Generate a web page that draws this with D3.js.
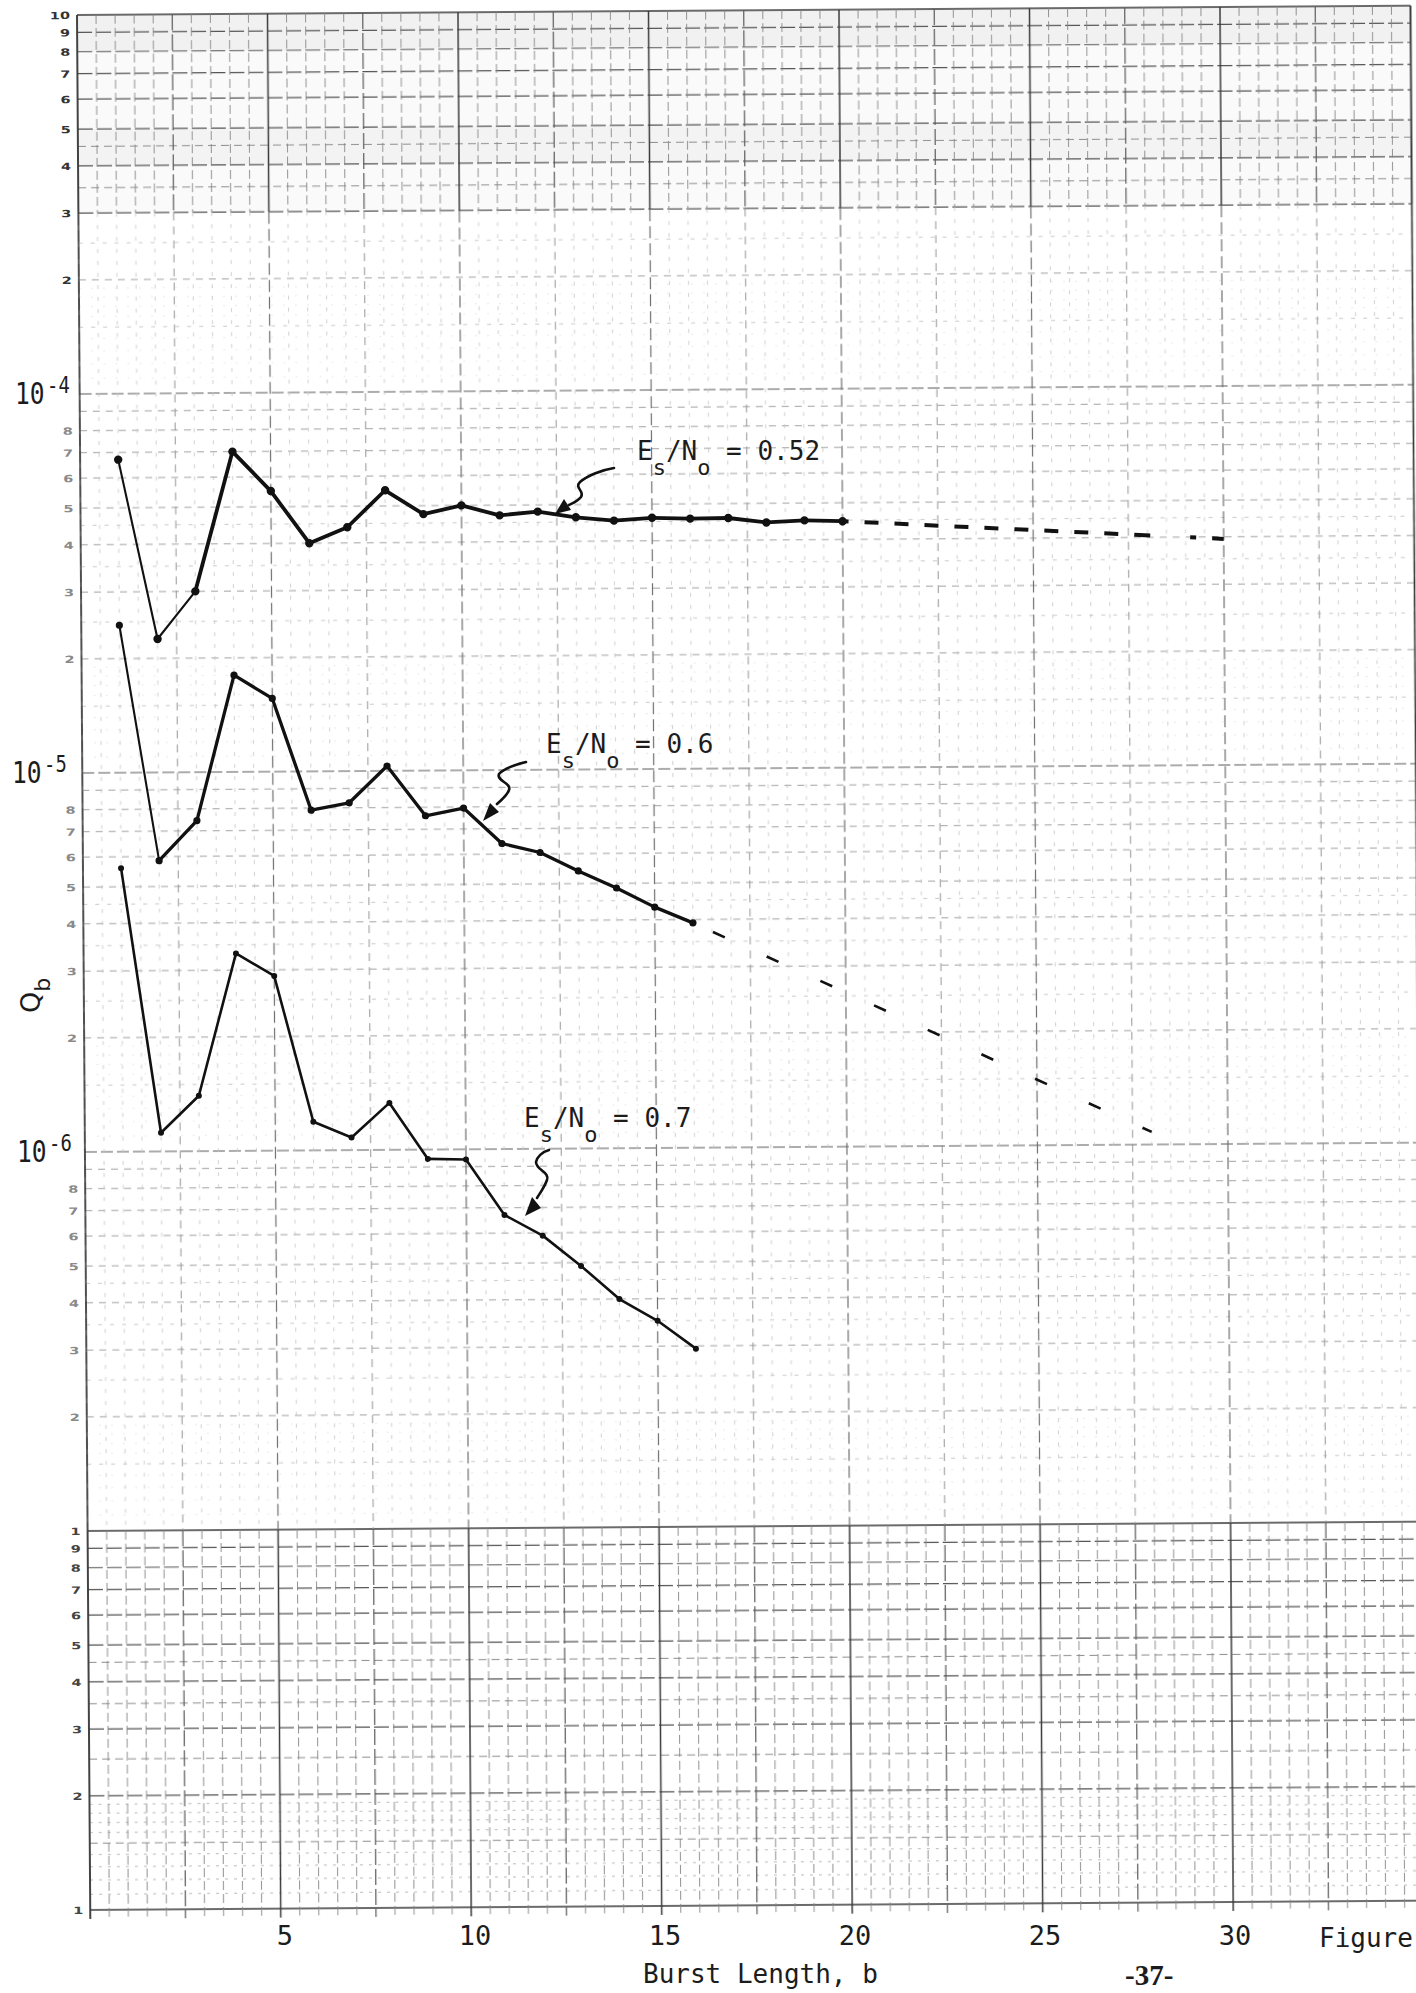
<!DOCTYPE html>
<html>
<head>
<meta charset="utf-8">
<script src="https://cdn.jsdelivr.net/npm/d3@7"></script>
<style>
  html, body { margin: 0; padding: 0; background: #fff; }
  svg { display: block; }
  .typed { font-family: "DejaVu Sans Mono", monospace; fill: #1c1c1c; }
</style>
</head>
<body>
<svg id="chart" width="1416" height="1993"></svg>
<script>
// ---- data: probability Q_b versus burst length b ----
const burst052 = [1, 2, 3, 4, 5, 6, 7, 8, 9, 10, 11, 12, 13, 14, 15, 16, 17, 18, 19, 20];
const q052 = [6.7e-5, 2.25e-5, 3.0e-5, 7.0e-5, 5.5e-5, 4.0e-5, 4.4e-5, 5.5e-5, 4.75e-5, 5.0e-5,
              4.7e-5, 4.8e-5, 4.63e-5, 4.53e-5, 4.6e-5, 4.57e-5, 4.58e-5, 4.45e-5, 4.5e-5, 4.47e-5];

const burst06 = [1, 2, 3, 4, 5, 6, 7, 8, 9, 10, 11, 12, 13, 14, 15, 16];
const q06 = [2.45e-5, 5.85e-6, 7.45e-6, 1.8e-5, 1.56e-5, 7.9e-6, 8.25e-6, 1.03e-5, 7.6e-6, 7.95e-6,
             6.4e-6, 6.05e-6, 5.4e-6, 4.86e-6, 4.32e-6, 3.92e-6];

const burst07 = [1, 2, 3, 4, 5, 6, 7, 8, 9, 10, 11, 12, 13, 14, 15, 16];
const q07 = [5.6e-6, 1.12e-6, 1.4e-6, 3.32e-6, 2.89e-6, 1.19e-6, 1.08e-6, 1.33e-6, 9.45e-7, 9.4e-7,
             6.7e-7, 5.9e-7, 4.9e-7, 4.0e-7, 3.5e-7, 2.95e-7];

// extrapolated trends (dashed)
const trendBurst052 = [20, 30];
const trendQ052 = [4.47e-5, 3.95e-5];
const trendBurst06 = [16, 28];
const trendQ06 = [3.92e-6, 1.08e-6];

// axis labels
const xTickValues = [5, 10, 15, 20, 25, 30];
const yDecadeLabels = [
  { base: "10", exp: "-4", value: 1e-4 },
  { base: "10", exp: "-5", value: 1e-5 },
  { base: "10", exp: "-6", value: 1e-6 }
];
const curveLabels = [
  { ratio: "0.52" },
  { ratio: "0.6" },
  { ratio: "0.7" }
];

// printed cycle numbering of the log paper
const cycleDigitsTop = [10, 9, 8, 7, 6, 5, 4, 3, 2];      // on the 1e-4 cycle
const cycleDigitsMid = [8, 7, 6, 5, 4, 3, 2];             // on the 1e-5, 1e-6, 1e-7 cycles
const cycleDigitsBottom = [10, 9, 8, 7, 6, 5, 4, 3, 2, 1]; // on the 1e-8 cycle

// graph-paper rulings within one cycle
const rulingMain = [1, 2, 3, 4, 5, 6, 7, 8, 9];
const rulingHalf = [1.5, 2.5, 3.5, 4.5];
const rulingTenth = [1.1, 1.2, 1.3, 1.4, 1.6, 1.7, 1.8, 1.9];
const cycleBases = [1e-8, 1e-7, 1e-6, 1e-5, 1e-4];

// ---- drawing ----
const svg = d3.select("#chart");

const defs = svg.append("defs");
defs.append("filter").attr("id", "soft")
  .append("feGaussianBlur").attr("stdDeviation", 0.45);

const x = d3.scaleLinear().domain([0, 35]).range([77, 1410.5]);
const y = d3.scaleLog().domain([1e-8, 1e-3]).range([1910, 15]);

// the ruled sheet sits slightly skewed under the typed lettering
const paper = svg.append("g").attr("transform", "rotate(-0.4 77 15)");
const rulings = paper.append("g").attr("filter", "url(#soft)");

// grey cast of the top cycle
rulings.append("rect")
  .attr("x", x(0)).attr("y", y(1e-3))
  .attr("width", x(35) - x(0)).attr("height", y(3e-4) - y(1e-3))
  .attr("fill", "#000").attr("opacity", 0.02);
rulings.append("rect")
  .attr("x", x(0)).attr("y", y(1e-3))
  .attr("width", x(35) - x(0)).attr("height", y(8e-4) - y(1e-3))
  .attr("fill", "#000").attr("opacity", 0.04);
rulings.append("rect")
  .attr("x", x(0)).attr("y", y(5e-4))
  .attr("width", x(35) - x(0)).attr("height", y(4e-4) - y(5e-4))
  .attr("fill", "#000").attr("opacity", 0.03);

const dense = v => v >= 2.95e-4 || v <= 1.001e-7;

const hStyle = {
  dense: {
    main:  { c: "#555",    w: 1.2, d: "15 4" },
    half:  { c: "#808080", w: 0.9, d: "8 5" },
    tenth: { c: "#a8a8a8", w: 0.8, d: "3 6" },
    cycle: { c: "#3a3a3a", w: 1.4, d: null }
  },
  faint: {
    main:  { c: "#a2a2a2", w: 1.0, d: "7 6" },
    half:  { c: "#bdbdbd", w: 0.8, d: "4 8" },
    tenth: { c: "#e0e0e0", w: 0.7, d: "2 10" },
    cycle: { c: "#5a5a5a", w: 1.2, d: "12 4" }
  }
};

const hLines = [];
cycleBases.forEach(base => {
  rulingMain.forEach(m => hLines.push({ v: base * m, kind: m === 1 ? "cycle" : "main" }));
  rulingHalf.forEach(m => hLines.push({ v: base * m, kind: "half" }));
  rulingTenth.forEach(m => hLines.push({ v: base * m, kind: "tenth" }));
});
hLines.push({ v: 1e-3, kind: "cycle" });

rulings.append("g").selectAll("line").data(hLines).join("line")
  .attr("x1", x(0)).attr("x2", x(35))
  .attr("y1", d => y(d.v)).attr("y2", d => y(d.v))
  .each(function (d) {
    const s = hStyle[dense(d.v) ? "dense" : "faint"][d.kind];
    d3.select(this).attr("stroke", s.c).attr("stroke-width", s.w)
      .attr("stroke-dasharray", s.d);
  });

// vertical rulings every half unit, split into the dark and the faded bands
const vStyle = {
  dense: {
    heavy: { c: "#3a3a3a", w: 1.5, d: null },
    mid:   { c: "#5a5a5a", w: 1.2, d: "16 4" },
    fine:  { c: "#858585", w: 0.9, d: "9 4" }
  },
  faint: {
    heavy: { c: "#707070", w: 1.2, d: "12 5" },
    mid:   { c: "#959595", w: 1.0, d: "8 6" },
    fine:  { c: "#c4c4c4", w: 0.8, d: "4 8" }
  }
};
const vBands = [
  { top: 1e-3, bottom: 3e-4, band: "dense" },
  { top: 3e-4, bottom: 1e-7, band: "faint" },
  { top: 1e-7, bottom: 1e-8, band: "dense", extra: 9 }
];
const vPositions = d3.range(0, 35.01, 0.5);
vBands.forEach(bd => {
  rulings.append("g").selectAll("line").data(vPositions).join("line")
    .attr("x1", d => x(d)).attr("x2", d => x(d))
    .attr("y1", y(bd.top)).attr("y2", y(bd.bottom) + (bd.extra || 0))
    .each(function (d) {
      const kind = d % 5 === 0 ? "heavy" : d % 2.5 === 0 ? "mid" : "fine";
      const s = vStyle[bd.band][kind];
      d3.select(this).attr("stroke", s.c).attr("stroke-width", s.w)
        .attr("stroke-dasharray", s.d);
    });
});
// sheet border
rulings.append("line").attr("x1", x(0)).attr("x2", x(0)).attr("y1", y(1e-3)).attr("y2", y(1e-8) + 9)
  .attr("stroke", "#3a3a3a").attr("stroke-width", 1.6);
rulings.append("line").attr("x1", x(35)).attr("x2", x(35)).attr("y1", y(1e-3)).attr("y2", y(1e-8) + 9)
  .attr("stroke", "#3a3a3a").attr("stroke-width", 1.6);

// printed cycle numbers
function cycleDigits(values, base, color, labelTen) {
  paper.append("g").selectAll("text").data(values).join("text")
    .attr("transform", m => `translate(${x(0) - 7},${y(base * m) + 4}) scale(1.45,1)`)
    .attr("text-anchor", "end")
    .attr("font-family", "DejaVu Sans, sans-serif")
    .attr("font-weight", "bold")
    .attr("font-size", 10)
    .attr("fill", color)
    .text(m => m === 10 ? labelTen : String(m));
}
cycleDigits(cycleDigitsTop, 1e-4, "#333", "10");
cycleDigits(cycleDigitsMid, 1e-5, "#8a8a8a", "1");
cycleDigits(cycleDigitsMid, 1e-6, "#8a8a8a", "1");
cycleDigits(cycleDigitsMid, 1e-7, "#8a8a8a", "1");
cycleDigits(cycleDigitsBottom, 1e-8, "#444", "1");

// ---- plotted curves ----
const series = [
  { b: burst052, q: q052, w: 3.8, thinSegs: 2, r: 4.2 },
  { b: burst06, q: q06, w: 3.3, thinSegs: 1, r: 3.6 },
  { b: burst07, q: q07, w: 2.6, thinSegs: 0, r: 3.0 }
];
series.forEach(s => {
  const pts = s.b.map((b, i) => [b, s.q[i]]);
  const segs = d3.pairs(pts);
  paper.append("g").selectAll("line").data(segs).join("line")
    .attr("x1", d => x(d[0][0])).attr("y1", d => y(d[0][1]))
    .attr("x2", d => x(d[1][0])).attr("y2", d => y(d[1][1]))
    .attr("stroke", "#111")
    .attr("stroke-linecap", "round")
    .attr("stroke-width", (d, i) => i < s.thinSegs ? 2.1 : s.w);
  paper.append("g").selectAll("circle").data(pts).join("circle")
    .attr("cx", d => x(d[0])).attr("cy", d => y(d[1]))
    .attr("r", s.r).attr("fill", "#111");
});

const trendLine = d3.line().x(d => x(d[0])).y(d => y(d[1]));
paper.append("path")
  .attr("d", trendLine(trendBurst052.map((b, i) => [b, trendQ052[i]])))
  .attr("fill", "none").attr("stroke", "#111").attr("stroke-width", 4)
  .attr("stroke-dasharray", "6 16 14 16 14 16 14 16 14 16 14 16 14 16 14 16 14 16 14 16 16 40");
paper.append("path")
  .attr("d", trendLine(trendBurst06.map((b, i) => [b, trendQ06[i]])))
  .attr("fill", "none").attr("stroke", "#111").attr("stroke-width", 2.6)
  .attr("stroke-dasharray", "0 22 13 24");

// ---- hand-drawn pointers ----
const ink = svg.append("g").attr("fill", "none").attr("stroke", "#111")
  .attr("stroke-width", 2.6).attr("stroke-linecap", "round");
const pointers = [
  { d: "M614,468 C601,470 587,476 580,482 C574,488 585,491 581,497 C578,501 573,503 569,505",
    head: [[555, 514], [571, 510], [564, 499]] },
  { d: "M526,762 C514,765 503,769 499,774 C496,781 512,783 509,790 C507,796 502,799 497,804",
    head: [[483, 821], [499, 812], [490, 803]] },
  { d: "M549,1150 C542,1152 537,1157 536,1162 C536,1170 550,1172 547,1180 C544,1188 540,1193 537,1198",
    head: [[525, 1216], [541, 1208], [532, 1197]] }
];
pointers.forEach(p => {
  ink.append("path").attr("d", p.d);
  svg.append("path").attr("d", "M" + p.head.join("L") + "Z").attr("fill", "#111");
});

// ---- typed lettering ----
const typed = svg.append("g").attr("class", "typed");

const labelAnchors = [[637, 460], [546, 753], [524, 1127]];
curveLabels.forEach((c, i) => {
  const t = typed.append("text").attr("x", labelAnchors[i][0]).attr("y", labelAnchors[i][1])
    .attr("font-size", 26);
  t.append("tspan").text("E");
  t.append("tspan").attr("dy", 15).attr("font-size", 22).text("s");
  t.append("tspan").attr("dy", -15).text("/N");
  t.append("tspan").attr("dy", 15).attr("font-size", 22).text("o");
  t.append("tspan").attr("dy", -15).text(" = " + c.ratio);
});

// decade labels on the value axis: 10 with a raised exponent
const decadeX = [15, 12, 17];
yDecadeLabels.forEach((l, i) => {
  const base = y(l.value) + 10;
  const t = typed.append("text")
    .attr("transform", `translate(${decadeX[i]},${base}) scale(0.82,1)`)
    .attr("font-size", 30);
  t.append("tspan").text(l.base);
  t.append("tspan").attr("dx", 3).attr("dy", -11).attr("font-size", 23).text(l.exp);
});

// value axis title Q_b
const qTitle = typed.append("text")
  .attr("transform", "translate(40,1013) rotate(-90)")
  .attr("font-family", "DejaVu Sans, sans-serif")
  .attr("font-size", 27);
qTitle.append("tspan").text("Q");
qTitle.append("tspan").attr("dy", 10).attr("font-size", 22).text("b");

// burst-length tick labels, typed beneath the sheet
const xTyped = d3.scaleLinear().domain([0, 35]).range([95, 1425]);
typed.append("g").selectAll("text").data(xTickValues).join("text")
  .attr("x", d => xTyped(d)).attr("y", 1945)
  .attr("text-anchor", "middle").attr("font-size", 27)
  .text(d => String(d));

typed.append("text").attr("x", 643).attr("y", 1983).attr("font-size", 26)
  .text("Burst Length, b");
typed.append("text").attr("x", 1319).attr("y", 1947).attr("font-size", 26)
  .text("Figure");
svg.append("text").attr("x", 1125).attr("y", 1985)
  .attr("font-family", "Liberation Serif, serif").attr("font-weight", "bold")
  .attr("font-size", 29).attr("fill", "#1c1c1c")
  .text("-37-");
</script>
</body>
</html>
